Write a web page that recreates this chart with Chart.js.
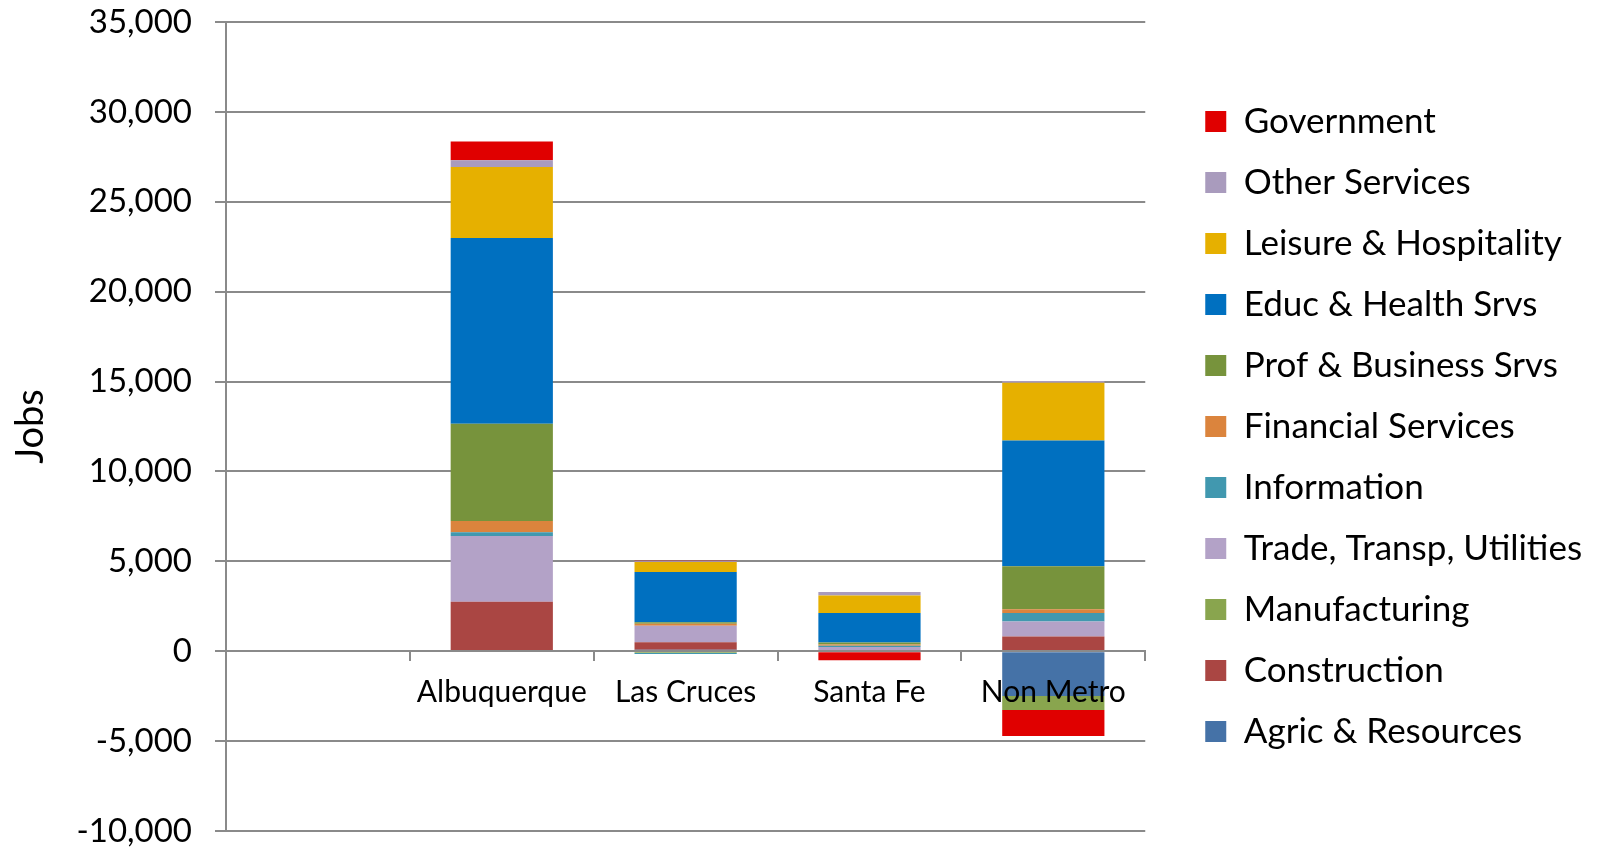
<!DOCTYPE html>
<html>
<head>
<meta charset="utf-8">
<title>Jobs by region</title>
<script src="https://cdn.jsdelivr.net/npm/chart.js@4/dist/chart.umd.min.js"></script>
<style>
    html, body { margin: 0; padding: 0; background: #fff; }
    #jobsChart { display: block; }
</style>
</head>
<body>
<canvas id="jobsChart" width="1598" height="847"></canvas>
<script>
// categories (first slot is an empty spacer category, as in the original sheet)
const regions = ['', 'Albuquerque', 'Las Cruces', 'Santa Fe', 'Non Metro'];

// job change per sector, stacked bottom -> top
const agric         = [null,     0,    80,    0, -2490];
const construction  = [null,  2750,   425,   60,   820];
const manufacturing = [null,     0,  -100,    0,  -780];
const trade         = [null,  3660,   915,  170,   835];
const information   = [null,   210,   -60,   70,   465];
const financial     = [null,   630,   110,   75,   220];
const profBusiness  = [null,  5400,    75,  110,  2380];
const educHealth    = [null, 10330,  2800, 1640,  7000];
const leisure       = [null,  3960,   560,  980,  3220];
const otherServices = [null,   370,    40,  190,    90];
const government    = [null,  1040,    30, -500, -1450];

// y axis ticks
const yMin = -10000;
const yMax = 35000;
const yStep = 5000;

const FONT = 'Lato, "Open Sans", sans-serif';
const GRID = '#8a8a8a';

// legend sits a bit further right than Chart.js puts it
const legendShift = {
    id: 'legendShift',
    afterLayout(chart) {
        const lg = chart.legend;
        lg.left = chart.chartArea.right + 34;
        lg.right = chart.width;
        lg.width = lg.right - lg.left;
    }
};

function series(label, data, color) {
    return { label, data, backgroundColor: color, borderWidth: 0 };
}

new Chart(document.getElementById('jobsChart'), {
    type: 'bar',
    data: {
        labels: regions,
        datasets: [
            series('Agric & Resources', agric, '#4572a7'),
            series('Construction', construction, '#aa4643'),
            series('Manufacturing', manufacturing, '#89a54e'),
            series('Trade, Transp, Utilities', trade, '#b3a2c7'),
            series('Information', information, '#4198af'),
            series('Financial Services', financial, '#db843d'),
            series('Prof & Business Srvs', profBusiness, '#77933c'),
            series('Educ & Health Srvs', educHealth, '#0070c0'),
            series('Leisure & Hospitality', leisure, '#e6b000'),
            series('Other Services', otherServices, '#a99bbd'),
            series('Government', government, '#e00000')
        ]
    },
    options: {
        responsive: false,
        animation: false,
        categoryPercentage: 0.556,
        barPercentage: 1,
        layout: { padding: { left: 0, top: 22, right: 71, bottom: 16 } },
        plugins: {
            tooltip: { enabled: false },
            legend: {
                position: 'right',
                reverse: true,
                labels: {
                    boxWidth: 21,
                    boxHeight: 21,
                    padding: 26,
                    color: '#000',
                    font: { family: FONT, size: 35 }
                }
            }
        },
        scales: {
            x: {
                stacked: true,
                position: { y: 0 },
                grid: {
                    drawOnChartArea: false,
                    tickLength: 9,
                    color: GRID,
                    lineWidth: 2,
                    z: 1
                },
                border: { color: GRID, width: 2, z: 1 },
                ticks: {
                    color: '#000',
                    padding: 14,
                    maxRotation: 0,
                    z: 1,
                    font: { family: FONT, size: 30 }
                }
            },
            y: {
                stacked: true,
                min: yMin,
                max: yMax,
                afterFit(scale) {
                    scale.width = 226;
                    // keep the label padding from pushing the plot inward
                    scale.paddingTop = 16;
                    scale.paddingBottom = 16;
                },
                grid: { color: GRID, lineWidth: 2, tickLength: 11 },
                border: { color: GRID, width: 2 },
                ticks: {
                    stepSize: yStep,
                    color: '#000',
                    padding: 23,
                    font: { family: FONT, size: 33, lineHeight: 1 },
                    callback: v => v.toLocaleString('en-US')
                },
                title: {
                    display: true,
                    text: 'Jobs',
                    color: '#000',
                    padding: { top: 8, bottom: 0 },
                    font: { family: FONT, size: 38 }
                }
            }
        }
    },
    plugins: [legendShift]
});
</script>
</body>
</html>
